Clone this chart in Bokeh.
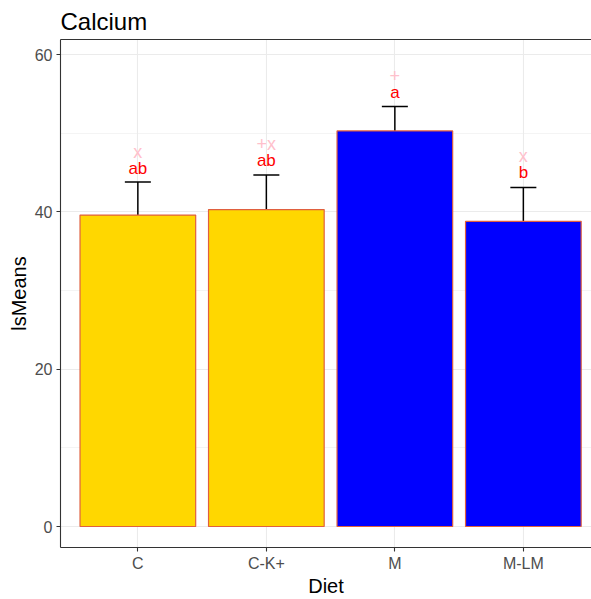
from bokeh.plotting import figure
from bokeh.models import (Range1d, FixedTicker, LinearAxis, Whisker, TeeHead,
                          ColumnDataSource)
from bokeh.core.properties import value
from bokeh.embed import file_html
from bokeh.resources import INLINE

# ---- data ----
diets = ["C", "C-K+", "M", "M-LM"]
means = [39.6, 40.3, 50.3, 38.8]
upper = [43.8, 44.7, 53.4, 43.1]
lower = [35.4, 35.9, 47.2, 34.5]
bar_colors = ["#FFD700", "#FFD700", "#0000FF", "#0000FF"]
letters = ["ab", "ab", "a", "b"]
letter_y = [44.8, 45.8, 54.4, 44.3]
marks = ["x", "+x", "+", "x"]
mark_y = [46.8, 47.9, 56.6, 46.4]
y_ticks = [0, 20, 40, 60]
y_minor = [10, 30, 50]

FONT = "Liberation Sans"
xpos = list(range(1, len(diets) + 1))

src = ColumnDataSource(dict(x=xpos, mean=means, upper=upper, lower=lower,
                            color=bar_colors, letter=letters, ly=letter_y,
                            mark=marks, my=mark_y))

W, H = 591, 599
BL, BR, BT, BB = 60, 0, 39, 52
px_x = 128.5      # pixels per category
px_y = 7.865      # pixels per unit
x0 = 0.398
y1 = 61.92
x_range = Range1d(x0, x0 + (W - BL - BR) / px_x)
y_range = Range1d(y1 - (H - BT - BB) / px_y, y1)

p = figure(width=W, height=H, output_backend="svg", toolbar_location=None,
           x_range=x_range, y_range=y_range,
           min_border_left=BL, min_border_right=BR, min_border_top=BT,
           min_border_bottom=BB, title="Calcium")
p.outline_line_color = None
p.background_fill_color = "white"
p.border_fill_color = "white"

p.title.text_font = FONT
p.title.text_font_size = "24px"
p.title.text_font_style = "normal"
p.title.text_color = "black"
p.title.align = "left"
p.title.standoff = 10

# grid
p.xaxis.ticker = FixedTicker(ticks=xpos)
p.yaxis.ticker = FixedTicker(ticks=y_ticks, minor_ticks=y_minor)
p.xgrid.grid_line_color = "#EBEBEB"
p.xgrid.grid_line_width = 1.1
p.ygrid.grid_line_color = "#EBEBEB"
p.ygrid.grid_line_width = 1.1
p.ygrid.minor_grid_line_color = "#EBEBEB"
p.ygrid.minor_grid_line_width = 0.55

# axes
for ax in (p.xaxis[0], p.yaxis[0]):
    ax.axis_line_color = "#333333"
    ax.axis_line_width = 1.1
    ax.major_tick_line_color = "#333333"
    ax.major_tick_line_width = 1.1
    ax.major_tick_out = 4
    ax.major_tick_in = 0
    ax.minor_tick_line_color = None
    ax.major_label_text_font = FONT
    ax.major_label_text_font_size = "16px"
    ax.major_label_text_color = "#4D4D4D"
    ax.axis_label_text_font = FONT
    ax.axis_label_text_font_size = "20px"
    ax.axis_label_text_font_style = "normal"
    ax.axis_label_text_color = "black"

p.xaxis.axis_label = "Diet"
p.yaxis.axis_label = "lsMeans"
p.xaxis.major_label_overrides = {x: d for x, d in zip(xpos, diets)}
p.xaxis.major_label_standoff = 3
p.xaxis.axis_label_standoff = 0
p.yaxis.major_label_standoff = 4
p.yaxis.axis_label_standoff = 2

top_axis = LinearAxis(ticker=FixedTicker(ticks=[]), axis_line_color="#333333",
                      axis_line_width=1.1, major_tick_out=0, major_tick_in=0,
                      minor_tick_line_color=None, major_label_standoff=0)
p.add_layout(top_axis, "above")

# bars
p.vbar(x="x", top="mean", bottom=0, width=0.9, fill_color="color",
       line_color="#E0603F", line_width=1.2, source=src)

# error bars
wh = Whisker(base="x", upper="upper", lower="lower", source=src,
             line_color="black", line_width=1.5,
             upper_head=TeeHead(size=26, line_color="black", line_width=1.5),
             lower_head=TeeHead(size=26, line_color="black", line_width=1.5))
p.add_layout(wh)

# significance letters
p.text(x="x", y="ly", text="letter", source=src, text_color="#FF0000",
       text_font=value(FONT), text_font_size="17px", text_align="center",
       text_baseline="alphabetic", y_offset=-6)
p.text(x="x", y="my", text="mark", source=src, text_color="#FFC0CB",
       text_font=value(FONT), text_font_size="18px", text_align="center",
       text_baseline="alphabetic", y_offset=-6)

open("out.html", "w").write(file_html(p, INLINE))
